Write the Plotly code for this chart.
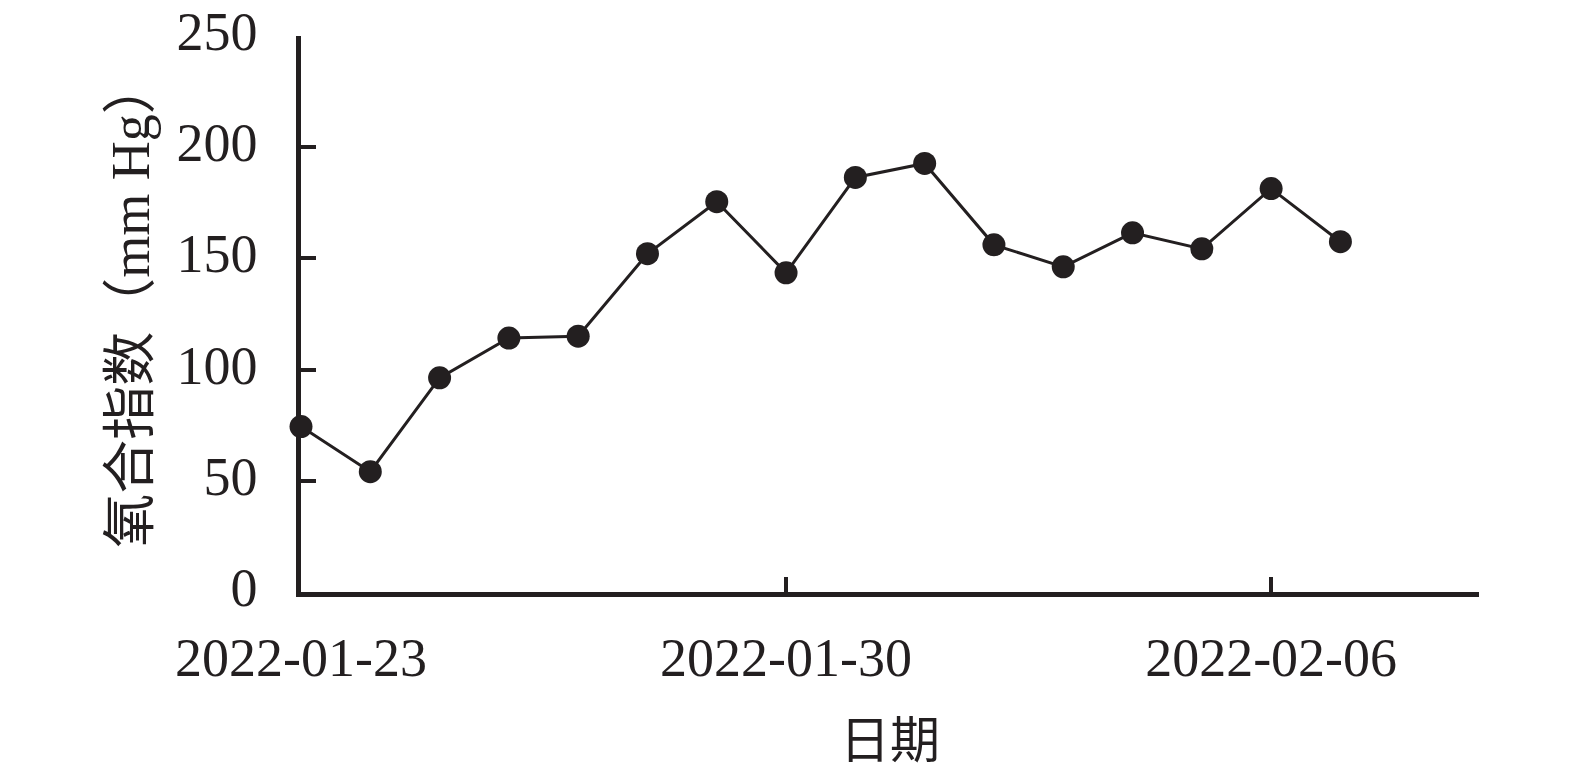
import plotly.graph_objects as go

dates = ["2022-01-23", "2022-01-24", "2022-01-25", "2022-01-26", "2022-01-27",
         "2022-01-28", "2022-01-29", "2022-01-30", "2022-01-31", "2022-02-01",
         "2022-02-02", "2022-02-03", "2022-02-04", "2022-02-05", "2022-02-06",
         "2022-02-07"]
oxygen_index = [74.4, 54.1, 96.3, 114.2, 115.0, 152.1, 175.5, 143.5, 186.4, 192.7,
                156.1, 146.2, 161.5, 154.3, 181.4, 157.5]

x_ticks = ["2022-01-23", "2022-01-30", "2022-02-06"]
x_ticktext = ["2022-01-23", "2022-01-30", "2022-02-06"]
y_ticks = [0, 50, 100, 150, 200, 250]
y_title = "氧合指数（mm Hg）"
x_title = "日期"

ink = "#231f20"
font_family = "Liberation Serif, Times New Roman, Noto Sans CJK SC, serif"

fig = go.Figure()
fig.add_trace(go.Scatter(
    x=dates, y=oxygen_index, mode="lines+markers",
    line=dict(color=ink, width=3),
    marker=dict(color=ink, size=23),
    cliponaxis=False, showlegend=False,
))

fig.update_layout(
    width=1575, height=773,
    margin=dict(l=293, r=104, t=28, b=189),
    paper_bgcolor="white", plot_bgcolor="white",
    font=dict(family=font_family, color=ink, size=50),
    xaxis=dict(
        type="date",
        range=["2022-01-23", "2022-02-09"],
        tickmode="array", tickvals=x_ticks, ticktext=x_ticktext,
        ticks="inside", ticklen=15, tickwidth=3.5, tickcolor=ink,
        showline=True, linecolor=ink, linewidth=4.5,
        showgrid=False, zeroline=False, automargin=False,
        tickfont=dict(size=54, family=font_family, color=ink),
        ticklabelstandoff=14,
        title=dict(text=x_title, font=dict(size=50, family="Noto Sans CJK SC, serif", color=ink), standoff=38),
    ),
    yaxis=dict(
        range=[0, 250],
        tickmode="array", tickvals=y_ticks,
        ticks="inside", ticklen=15, tickwidth=3.5, tickcolor=ink,
        showline=True, linecolor=ink, linewidth=4.5,
        showgrid=False, zeroline=False, automargin=False,
        ticklabeloverflow="allow",
        ticklabelshift=-5,
        tickfont=dict(size=54, family=font_family, color=ink),
        ticklabelstandoff=28,
    ),
    annotations=[dict(
        text=y_title, textangle=-90, showarrow=False,
        xref="paper", yref="paper", x=-0.1445, y=0.518,
        xanchor="center", yanchor="middle",
        font=dict(size=54, family="Liberation Serif, Noto Sans CJK SC, serif", color=ink),
    )],
)

fig.write_html("out.html")
